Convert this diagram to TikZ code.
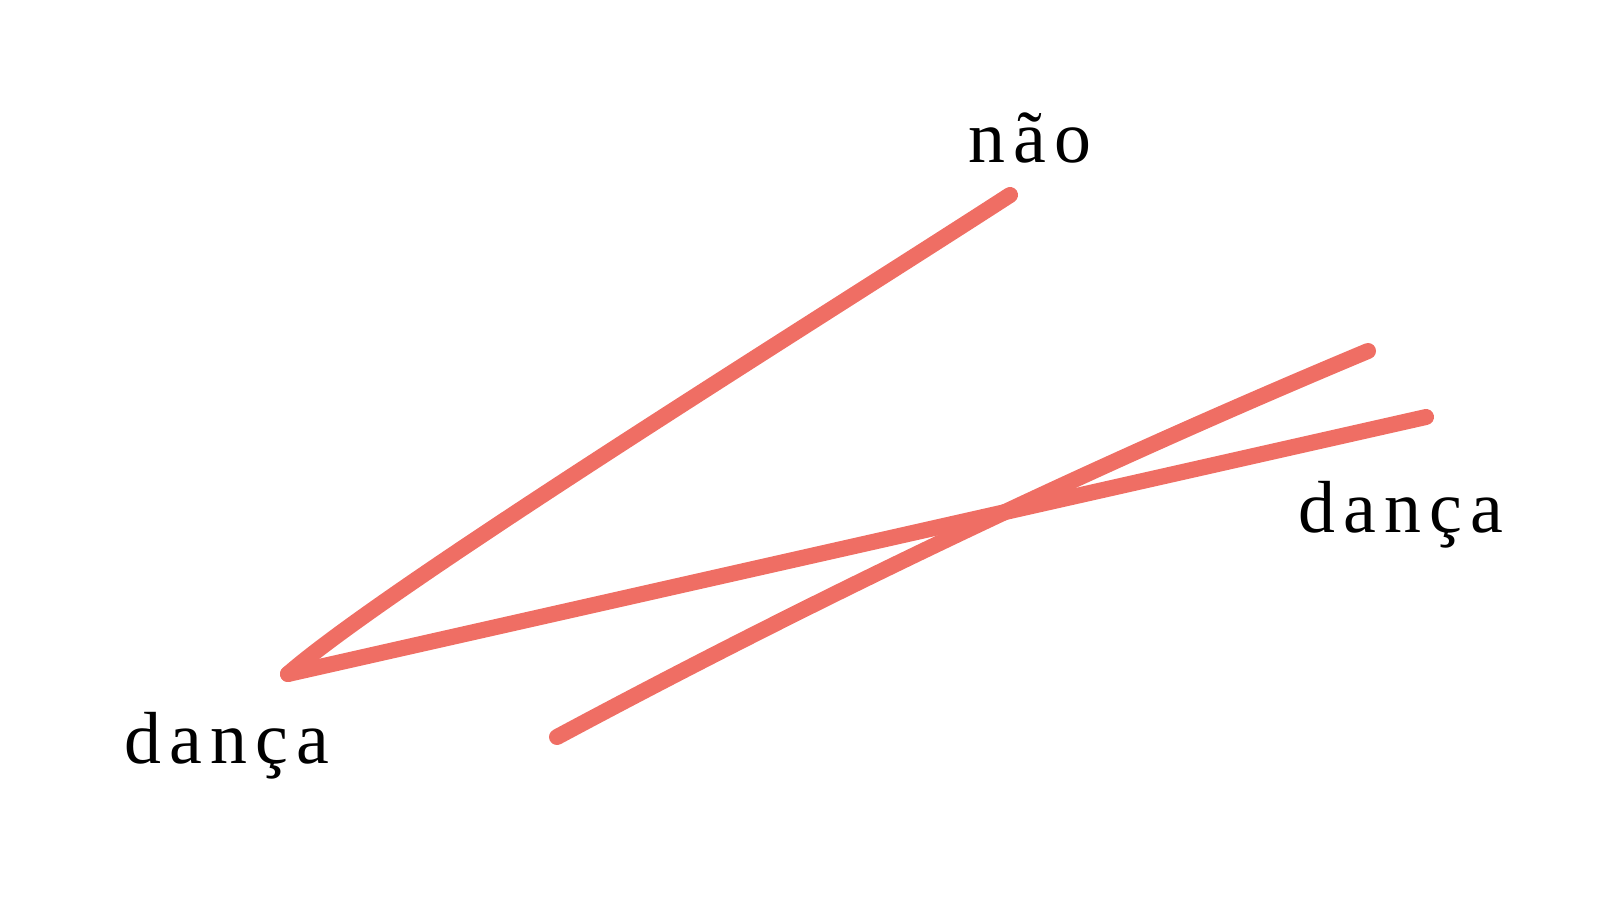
\documentclass[tikz,border=0pt]{standalone}
\usepackage{fontspec}
\setmainfont[LetterSpace=11]{Liberation Serif}
\usepackage{xcolor}
\usepackage{tikz}
\usetikzlibrary{positioning,calc}

\definecolor{markerred}{RGB}{239,110,100}

\begin{document}
\begin{tikzpicture}[
  stroke/.style={draw=markerred, line width=0.16cm, line cap=round, line join=round},
  word/.style={font=\fontsize{21}{25}\selectfont, text=black, anchor=base, inner sep=0pt}
]
\useasboundingbox (0,0) rectangle (16,9);

% stroke end points
\coordinate (fold) at (2.88, 2.26);
\coordinate (nao-end) at (10.10, 7.05);
\coordinate (danca-end) at (14.26, 4.83);
\coordinate (cross-start) at (5.57, 1.63);
\coordinate (cross-end) at (13.68, 5.49);

% words
\node[word] (nao) at (10.30, 7.37) {não};
\node[word] (danca-left) at (2.27, 1.37) {dança};
\node[word] (danca-right) at (14.01, 3.68) {dança};

% strokes
\draw[stroke] (fold) .. controls (3.90, 3.15) and (8.20, 5.82) .. (nao-end);
\draw[stroke] (fold) -- (danca-end);
\draw[stroke] (cross-start) .. controls (8.22, 3.05) and (10.93, 4.34) .. (cross-end);

\end{tikzpicture}
\end{document}
